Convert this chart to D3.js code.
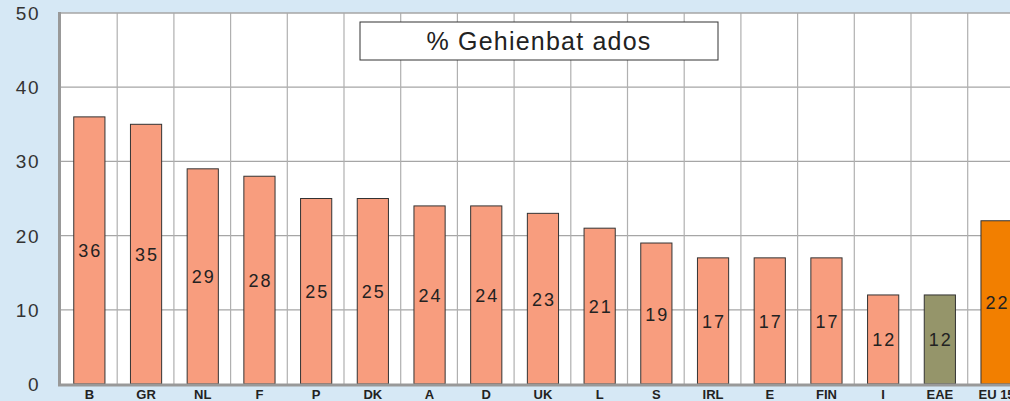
<!DOCTYPE html>
<html>
<head>
<meta charset="utf-8">
<script src="https://cdn.jsdelivr.net/npm/d3@7"></script>
<style>
  body { margin: 0; background: #d6e8f5; }
  svg { display: block; font-family: "Liberation Sans", Arial, sans-serif; }
</style>
</head>
<body>
<svg id="chart"></svg>
<script>
const countries = ["B", "GR", "NL", "F", "P", "DK", "A", "D", "UK", "L", "S", "IRL", "E", "FIN", "I", "EAE", "EU 15"];
const values = [36, 35, 29, 28, 25, 25, 24, 24, 23, 21, 19, 17, 17, 17, 12, 12, 22];
const yTicks = [0, 10, 20, 30, 40, 50];
const title = "% Gehienbat ados";

const width = 1010;
const height = 401;
const margin = {top: 13, left: 61, bottom: 17};
const band = 56.7;

const svg = d3.select("#chart").attr("width", width).attr("height", height);

const x = d3.scaleBand().domain(countries)
  .range([margin.left, margin.left + band * countries.length])
  .paddingInner(0.45).paddingOuter(0.225);
const y = d3.scaleLinear().domain([0, 50]).range([height - margin.bottom, margin.top]);

// plot area
svg.append("rect")
  .attr("x", margin.left).attr("y", margin.top)
  .attr("width", width - margin.left).attr("height", y(0) - margin.top)
  .attr("fill", "#fff");

// horizontal grid
svg.append("g").selectAll("line").data(yTicks.slice(1)).join("line")
  .attr("x1", margin.left).attr("x2", width)
  .attr("y1", d => y(d)).attr("y2", d => y(d))
  .attr("stroke", "#a6a6a6").attr("stroke-width", 1.2);

// vertical grid at category boundaries
svg.append("g").selectAll("line").data(countries.slice(1)).join("line")
  .attr("x1", d => x(d) - x.step() * x.paddingInner() / 2 - 0.5)
  .attr("x2", d => x(d) - x.step() * x.paddingInner() / 2 - 0.5)
  .attr("y1", margin.top).attr("y2", y(0))
  .attr("stroke", "#b0b0b0").attr("stroke-width", 1.2);

// y axis labels
svg.append("g").selectAll("text").data(yTicks).join("text")
  .attr("x", 40).attr("y", d => y(d) + 7)
  .attr("text-anchor", "end")
  .attr("font-size", 19).attr("letter-spacing", 1.5).attr("fill", "#333")
  .text(d => d);

// bars
const color = (d, i) => countries[i] === "EAE" ? "#95956a" : countries[i] === "EU 15" ? "#f27f00" : "#f89d7e";
svg.append("g").selectAll("rect").data(values).join("rect")
  .attr("x", (d, i) => x(countries[i]))
  .attr("y", d => y(d))
  .attr("width", x.bandwidth())
  .attr("height", d => y(0) - y(d))
  .attr("fill", color)
  .attr("stroke", "#333").attr("stroke-width", 1);

// value labels in middle of bars
svg.append("g").selectAll("text").data(values).join("text")
  .attr("x", (d, i) => x(countries[i]) + x.bandwidth() / 2 + 1)
  .attr("y", d => y(d / 2) + 7)
  .attr("text-anchor", "middle")
  .attr("font-size", 18).attr("letter-spacing", 2).attr("fill", "#222")
  .text(d => d);

// axes lines
svg.append("line")
  .attr("x1", margin.left - 1.5).attr("x2", margin.left - 1.5)
  .attr("y1", margin.top - 1).attr("y2", y(0) + 2)
  .attr("stroke", "#999").attr("stroke-width", 3);
svg.append("line")
  .attr("x1", margin.left - 3).attr("x2", width)
  .attr("y1", y(0) + 1).attr("y2", y(0) + 1)
  .attr("stroke", "#999").attr("stroke-width", 3);
svg.append("line")
  .attr("x1", margin.left).attr("x2", width)
  .attr("y1", margin.top).attr("y2", margin.top)
  .attr("stroke", "#a6a6a6").attr("stroke-width", 1.2);

// category labels
svg.append("g").selectAll("text").data(countries).join("text")
  .attr("x", d => x(d) + x.bandwidth() / 2)
  .attr("y", 399)
  .attr("text-anchor", "middle")
  .attr("font-size", 13).attr("font-weight", "bold").attr("fill", "#222")
  .text(d => d);

// title box
svg.append("rect")
  .attr("x", 360).attr("y", 22).attr("width", 358).attr("height", 38)
  .attr("fill", "#fff").attr("stroke", "#333").attr("stroke-width", 1);
svg.append("text")
  .attr("x", 539).attr("y", 50)
  .attr("text-anchor", "middle")
  .attr("font-size", 25).attr("letter-spacing", 1.2).attr("fill", "#222")
  .text(title);
</script>
</body>
</html>
